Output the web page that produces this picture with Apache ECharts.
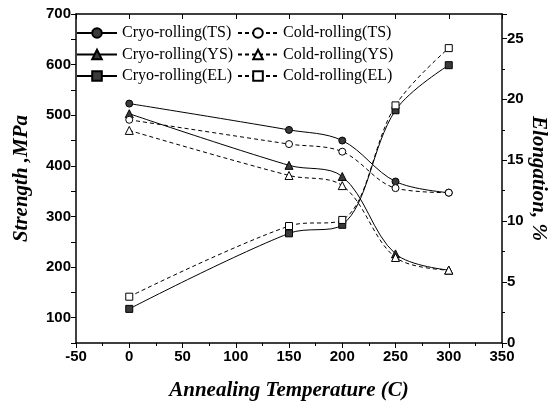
<!DOCTYPE html>
<html>
<head>
<meta charset="utf-8">
<script src="https://cdn.jsdelivr.net/npm/echarts@6/dist/echarts.min.js"></script>
<style>
  html, body { margin: 0; padding: 0; background: #fff; }
  #chart { width: 551px; height: 403px; }
</style>
</head>
<body>
<div id="chart"></div>
<script>
// annealing temperatures (C)
const temps = [0, 150, 200, 250, 300];

// strength, MPa (left axis)
const cryoTS = [523, 471, 450, 369, 347];
const coldTS = [491, 443, 428, 356, 347];
const cryoYS = [503, 401, 379, 226, 194];
const coldYS = [470, 381, 361, 219, 194];

// elongation, % (right axis)
const cryoEL = [2.8, 9.0, 9.7, 19.1, 22.8];
const coldEL = [3.8, 9.6, 10.1, 19.5, 24.2];

const pairs = (ys) => temps.map((t, i) => [t, ys[i]]);

const chart = echarts.init(document.getElementById("chart"), null, { renderer: "canvas" });

const serif = "'Liberation Serif', 'Times New Roman', serif";
const sans = "'Liberation Sans', Arial, sans-serif";

// common line series builder
function mk(name, ys, yIdx, symbol, filled, dashed) {
    return {
        name: name,
        type: "line",
        data: pairs(ys),
        yAxisIndex: yIdx,
        smooth: 0.35,
        symbol: symbol,
        symbolSize: symbol === "triangle" ? 8 : 7,
        showSymbol: true,
        lineStyle: { color: "#000", width: 1, type: dashed ? [4, 3] : "solid" },
        itemStyle: {
            color: filled ? "#3a3a3a" : "#fff",
            borderColor: "#000",
            borderWidth: 1,
        },
        emphasis: { disabled: true },
    };
}

const legendText = { fontFamily: serif, fontSize: 16, color: "#000" };
const titleText = { fontFamily: serif, fontSize: 21, fontWeight: "bold", fontStyle: "italic", color: "#000" };
const tickText = { fontFamily: sans, fontSize: 15, fontWeight: "bold", color: "#000" };

const option = {
    backgroundColor: "#fff",
    animation: false,
    legend: [
        {
            data: ["Cryo-rolling(TS)", "Cryo-rolling(YS)", "Cryo-rolling(EL)"],
            orient: "vertical",
            left: 76,
            top: 25,
            itemWidth: 40,
            itemHeight: 12,
            itemGap: 5.5,
            textStyle: legendText,
            padding: 0,
        },
        {
            data: ["Cold-rolling(TS)", "Cold-rolling(YS)", "Cold-rolling(EL)"],
            orient: "vertical",
            left: 237,
            top: 25,
            itemWidth: 40,
            itemHeight: 12,
            itemGap: 5.5,
            textStyle: legendText,
            padding: 0,
        },
    ],
    grid: { left: 76, right: 49, top: 14, bottom: 60, outerBoundsMode: "none" },
    xAxis: [
        {
            type: "value",
            min: -50,
            max: 350,
            interval: 50,
            position: "bottom",
            name: "Annealing Temperature (C)",
            nameLocation: "middle",
            nameGap: 37,
            nameTextStyle: titleText,
            axisLine: { onZero: false, lineStyle: { color: "#000", width: 1.5 } },
            axisTick: { length: 5, lineStyle: { color: "#000" } },
            minorTick: { show: true, splitNumber: 2, length: 3, lineStyle: { color: "#000" } },
            axisLabel: Object.assign({ margin: 6 }, tickText),
            splitLine: { show: false },
        },
        {
            type: "value",
            min: -50,
            max: 350,
            interval: 50,
            position: "top",
            axisLine: { onZero: false, lineStyle: { color: "#000", width: 1.5 } },
            axisTick: { inside: true, length: 5, lineStyle: { color: "#000" } },
            minorTick: { show: false },
            axisLabel: { show: false },
            splitLine: { show: false },
        },
    ],
    yAxis: [
        {
            type: "value",
            min: 50,
            max: 700,
            interval: 50,
            position: "left",
            name: "Strength ,MPa",
            nameLocation: "middle",
            nameGap: 44,
            nameTextStyle: titleText,
            axisLine: { show: true, onZero: false, lineStyle: { color: "#000", width: 1.5 } },
            axisTick: { show: true, length: 5, lineStyle: { color: "#000" } },
            axisLabel: Object.assign({
                margin: 5,
                formatter: (v) => (v % 100 === 0 ? String(v) : ""),
            }, tickText),
            splitLine: { show: false },
        },
        {
            type: "value",
            min: 0,
            max: 27,
            interval: 5,
            position: "right",
            name: "Elongation, %",
            nameLocation: "middle",
            nameRotate: -90,
            nameGap: 26,
            nameMoveOverlap: false,
            nameTextStyle: titleText,
            axisLine: { show: true, onZero: false, lineStyle: { color: "#000", width: 1.5 } },
            axisTick: { show: true, length: 5, lineStyle: { color: "#000" } },
            minorTick: { show: true, splitNumber: 2, length: 3, lineStyle: { color: "#000" } },
            axisLabel: Object.assign({
                margin: 5,
                formatter: (v) => (v % 5 === 0 ? String(v) : ""),
            }, tickText),
            splitLine: { show: false },
        },
    ],
    series: [
        mk("Cryo-rolling(TS)", cryoTS, 0, "circle", true, false),
        mk("Cryo-rolling(YS)", cryoYS, 0, "triangle", true, false),
        mk("Cryo-rolling(EL)", cryoEL, 1, "rect", true, false),
        mk("Cold-rolling(TS)", coldTS, 0, "circle", false, true),
        mk("Cold-rolling(YS)", coldYS, 0, "triangle", false, true),
        mk("Cold-rolling(EL)", coldEL, 1, "rect", false, true),
    ],
};

chart.setOption(option);
</script>
</body>
</html>
